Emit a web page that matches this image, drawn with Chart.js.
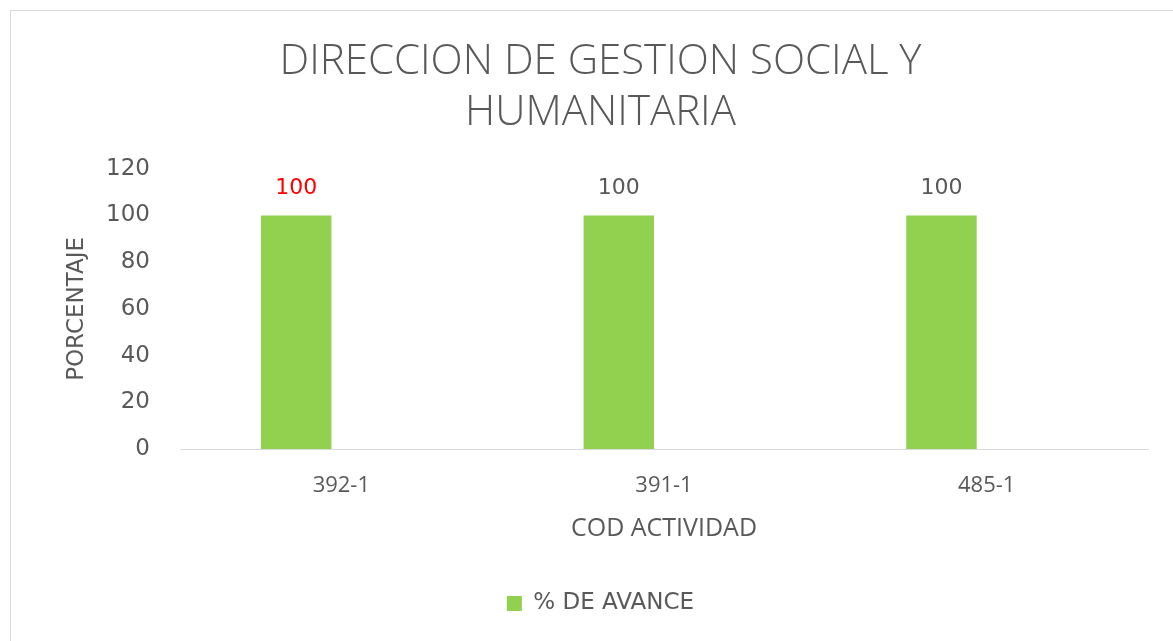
<!DOCTYPE html>
<html>
<head>
<meta charset="utf-8">
<script src="https://cdn.jsdelivr.net/npm/chart.js@4"></script>
<style>
  body { margin: 0; background: #fff; }
  #box { position: absolute; left: 10px; top: 10px; width: 1180px; height: 650px; border: 1px solid #d9d9d9; }
  canvas { position: absolute; left: 0; top: 0; }
</style>
</head>
<body>
<div id="box"><canvas id="chart" width="1162" height="630"></canvas></div>
<script>
const categories = ["392-1", "391-1", "485-1"];
const avance = [100, 100, 100];
const labelColors = ["#FF0000", "#595959", "#595959"]; // first label is red in the original

const narrow = "'Open Sans', sans-serif";
const wide = "'DejaVu Sans', sans-serif";
const grey = "#595959";

// draws the value above each bar
const valueLabels = {
  id: "valueLabels",
  afterDatasetsDraw(chart) {
    const ctx = chart.ctx;
    const meta = chart.getDatasetMeta(0);
    ctx.save();
    ctx.font = "22px " + wide;
    ctx.textAlign = "center";
    ctx.textBaseline = "middle";
    meta.data.forEach((bar, i) => {
      ctx.fillStyle = labelColors[i];
      ctx.fillText(avance[i], bar.x, bar.y - 27);
    });
    ctx.restore();
  }
};

const ctx = document.getElementById("chart").getContext("2d");
new Chart(ctx, {
  type: "bar",
  data: {
    labels: categories,
    datasets: [
      { label: "% DE AVANCE", data: avance, backgroundColor: "#92D050",
        categoryPercentage: 0.56, barPercentage: 0.78 },
      { label: "", data: [null, null, null], backgroundColor: "transparent",
        categoryPercentage: 0.56, barPercentage: 0.78 }
    ]
  },
  options: {
    responsive: false,
    animation: false,
    layout: { padding: { left: 42, right: 25, top: 0, bottom: 16 } },
    plugins: {
      title: {
        display: true,
        text: ["DIRECCION DE GESTION SOCIAL Y", "HUMANITARIA"],
        color: grey,
        font: { family: narrow, size: 42, weight: 300, lineHeight: 1.2 },
        padding: { top: 26, bottom: 31 }
      },
      legend: {
        position: "bottom",
        labels: {
          filter: (item) => item.text !== "",
          color: grey,
          boxWidth: 15,
          boxHeight: 15,
          padding: 10,
          font: { family: wide, size: 23 }
        }
      },
      tooltip: { enabled: false }
    },
    scales: {
      x: {
        grid: { display: false, drawTicks: false },
        border: { display: true, color: "#d9d9d9", width: 1 },
        ticks: { color: grey, padding: 24, font: { family: narrow, size: 22 } },
        title: {
          display: true,
          text: "COD ACTIVIDAD",
          color: grey,
          font: { family: narrow, size: 25 },
          padding: { top: 0, bottom: 38 }
        },
        afterFit(scale) { scale.height = 133; }
      },
      y: {
        min: 0,
        max: 120,
        ticks: { stepSize: 20, color: grey, padding: 30, font: { family: wide, size: 23 } },
        grid: { display: false, drawTicks: false },
        border: { display: false },
        title: {
          display: true,
          text: "PORCENTAJE",
          color: grey,
          font: { family: wide, size: 23 },
          padding: { top: 10, bottom: 0 }
        },
        afterFit(scale) { scale.width = 127; }
      }
    }
  },
  plugins: [valueLabels]
});
</script>
</body>
</html>
